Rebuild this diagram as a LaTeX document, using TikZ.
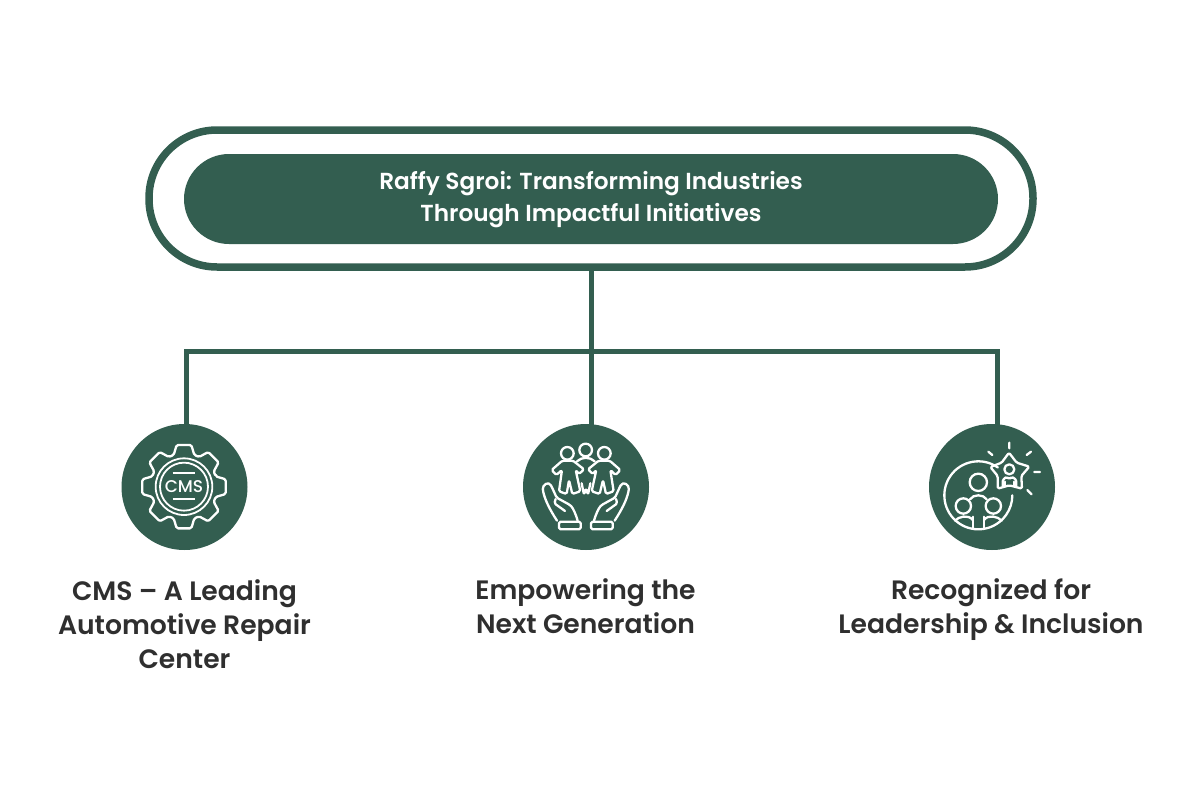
\documentclass[tikz,border=0pt]{standalone}
\usepackage{fontspec}
\setmainfont{Poppins}[UprightFont={* Medium},BoldFont={* SemiBold}]
\definecolor{deepgreen}{HTML}{335E50}
\definecolor{labelgrey}{HTML}{2F2F2F}
\tikzset{
  wire/.style={draw=deepgreen,line width=5pt},
  disc/.style={circle,fill=deepgreen,minimum size=126pt,inner sep=0pt},
  caption/.style={align=center,text=labelgrey,font=\fontsize{26.6}{34}\selectfont\bfseries},
  iconline/.style={draw=white,line width=2.3pt,line cap=round,line join=round,rounded corners=1.5pt},
  zoomed/.style={shift={#1},x=0.3333pt,y=-0.3333pt}
}
\begin{document}
\begin{tikzpicture}[x=1pt,y=-1pt]
    \useasboundingbox (0,0) rectangle (1200,800);
    \node (outer) [draw=deepgreen,line width=7.5pt,rounded corners=68pt,minimum width=884pt,minimum height=137pt] at (591,198.5) {};
    \node (inner) [fill=deepgreen,rounded corners=45pt,minimum width=814pt,minimum height=90pt] at (591,199) {};
    \node (title) [text=white,align=center,font=\fontsize{23.2}{32}\selectfont\bfseries] at (591,200) {Raffy Sgroi: Transforming Industries\\Through Impactful Initiatives};
    % bus
    \coordinate (busleft) at (186,351);
    \coordinate (busright) at (997,351);
    \draw[wire] (outer.south) -- (591,440);
    \draw[wire] (busleft |- 0,440) -- (busleft) -- (busright) -- (busright |- 0,440);
    % discs
    \node (gear) [disc] at (184.5,487) {};
    \node (hands) [disc] at (586,487) {};
    \node (star) [disc] at (992,487) {};
    \node (gearcap) [caption] at (184.5,624) {CMS -- A Leading\\Automotive Repair\\Center};
    \node (handscap) [caption,anchor=north] at (585.5,575.5) {Empowering the\\Next Generation};
    \node (starcap) [caption,anchor=north] at (991,575.5) {Recognized for\\Leadership \& Inclusion};
    % gear icon
    \begin{scope}[zoomed={(110,420)}]
      \begin{scope}[shift={(222,200)}]
        \draw[iconline] (-18:100) \foreach \a in {0,45,...,315} {-- (\a-18:100) -- (\a-10:127) -- (\a+10:127) -- (\a+18:100)} -- cycle;
        \draw[white,line width=1.8pt] (0,0) circle[radius=85] (0,0) circle[radius=72];
      \end{scope}
      \draw[white,line width=1.8pt] (188,160) -- (255,160) (188,238) -- (255,238);
      \node (cms) [text=white,font=\fontsize{17}{17}\selectfont,inner sep=0pt] at (222,200) {CMS};
    \end{scope}
    % hands icon
    \begin{scope}[zoomed={(515,420)}]
      \draw[iconline] (157,100) circle[radius=19] (212,90) circle[radius=19] (268,100) circle[radius=19];
      % left and right figure
      \draw[iconline] (142,122) -- (110,150) -- (124,165) -- (141,150) -- (132,214) -- (155,222) -- (162,180) -- (172,222) -- (196,214) -- (182,150) -- (192,162) -- (207,148) -- (174,122) -- cycle;
      \draw[iconline] (251,122) -- (219,148) -- (233,162) -- (244,150) -- (230,214) -- (254,222) -- (264,180) -- (273,222) -- (296,214) -- (286,150) -- (302,165) -- (316,150) -- (284,122) -- cycle;
      % middle figure
      \draw[iconline] (186,124) .. controls (200,110) and (225,110) .. (239,124);
      \draw[iconline] (200,190) -- (207,224) -- (213,205) -- (219,224) -- (226,190);
      % hands
      \draw[iconline] (126,302) .. controls (105,270) and (90,240) .. (84,212) .. controls (82,195) and (100,182) .. (110,200) -- (125,233) -- (165,255) .. controls (175,265) and (183,285) .. (188,302);
      \draw[iconline] (122,237) -- (118,250) -- (150,273);
      \draw[iconline] (299,302) .. controls (320,270) and (335,240) .. (341,212) .. controls (343,195) and (325,182) .. (315,200) -- (300,233) -- (260,255) .. controls (250,265) and (242,285) .. (237,302);
      \draw[iconline] (303,237) -- (307,250) -- (275,273);
      \draw[iconline] (132,305) rectangle (197,328) (228,305) rectangle (293,328);
    \end{scope}
    % recognition icon
    \begin{scope}[zoomed={(920,420)}]
      \draw[white,line width=2.3pt,line cap=round] (233.5,142.4) arc[start angle=-55,end angle=-360,radius=102];
      \draw[iconline] (267,98) -- (290,128) -- (328,140) -- (304,168) -- (306,206) -- (268,196) -- (233,206) -- (233,168) -- (211,141) -- (245,128) -- cycle;
      \draw[iconline] (268,148) circle[radius=15];
      \draw[iconline] (248,198) -- (248,180) -- (260,170) -- (268,178) -- (276,170) -- (289,180) -- (289,198);
      \draw[iconline] (255,198) -- (255,185) (282,198) -- (282,185);
      \draw[white,line width=2.3pt,line cap=round] (268,68) -- (268,85) (205,95) -- (217,105) (333,95) -- (320,105) (343,156) -- (360,156) (322,210) -- (335,223);
      % family
      \draw[iconline] (175,187) circle[radius=26] (130,258) circle[radius=23] (220,258) circle[radius=23];
      \draw[iconline] (150,238) .. controls (160,222) and (190,222) .. (200,238);
      \draw[iconline] (158,326) -- (158,290) (192,326) -- (192,290);
      \draw[iconline] (105,302) .. controls (115,290) and (145,282) .. (158,300);
      \draw[iconline] (245,302) .. controls (235,290) and (205,282) .. (192,300);
    \end{scope}
  \end{tikzpicture}
\end{document}
